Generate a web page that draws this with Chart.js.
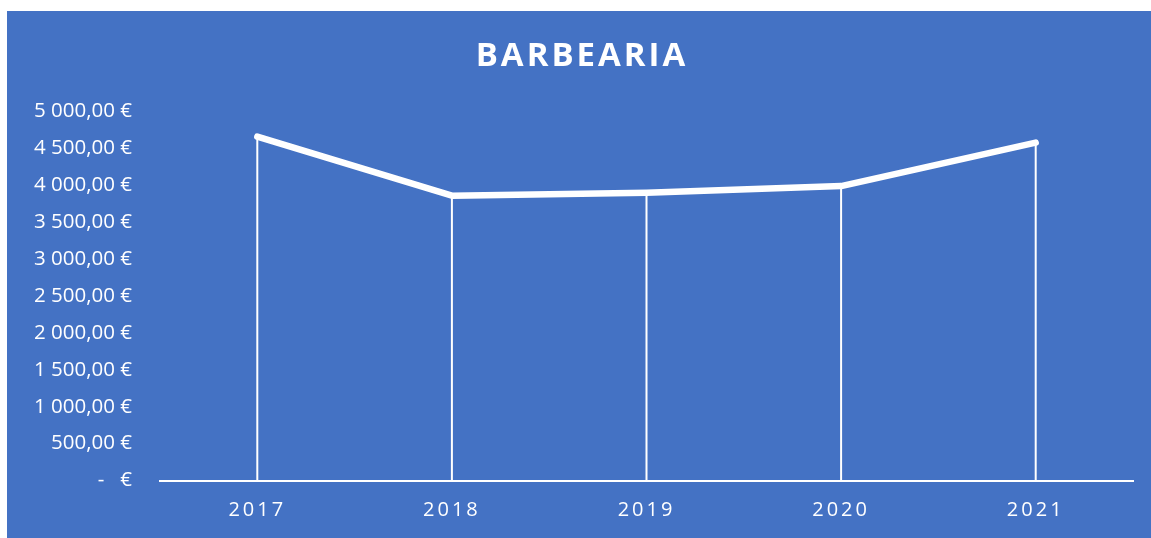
<!DOCTYPE html>
<html>
<head>
<meta charset="utf-8">
<script src="https://cdn.jsdelivr.net/npm/chart.js@4.4.4/dist/chart.umd.min.js"></script>
<style>
  html, body { margin: 0; padding: 0; background: #fff; }
  #wrap { position: absolute; left: 7px; top: 11px; width: 1144px; height: 527px; background: #4472c4; }
</style>
</head>
<body>
<div id="wrap"><canvas id="chart"></canvas></div>
<script>
const years = ['2017', '2018', '2019', '2020', '2021'];
const revenue = [4660, 3860, 3900, 3990, 4580];
const yTicks = [0, 500, 1000, 1500, 2000, 2500, 3000, 3500, 4000, 4500, 5000];

const WHITE = '#ffffff';

function euro(v) {
    if (v === 0) return '-   €';
    const parts = v.toFixed(2).split('.');
    const whole = parts[0].replace(/\B(?=(\d{3})+(?!\d))/g, ' ');
    return whole + ',' + parts[1] + ' €';
}

// spaced caps for the title and the year labels, plain text for the rest
const letterSpacing = {
    id: 'letterSpacing',
    beforeDraw(chart) { chart.ctx.letterSpacing = '3px'; },
    beforeDatasetsDraw(chart) { chart.ctx.letterSpacing = '0px'; }
};

// vertical drop lines from each point down to the category axis
const dropLines = {
    id: 'dropLines',
    beforeDatasetsDraw(chart) {
        const ctx = chart.ctx;
        const y = chart.scales.y;
        const meta = chart.getDatasetMeta(0);
        ctx.save();
        ctx.strokeStyle = WHITE;
        ctx.lineWidth = 2;
        meta.data.forEach(pt => {
            ctx.beginPath();
            ctx.moveTo(pt.x, pt.y);
            ctx.lineTo(pt.x, y.getPixelForValue(0));
            ctx.stroke();
        });
        ctx.restore();
    }
};

new Chart(document.getElementById('chart'), {
    type: 'line',
    data: {
        labels: years,
        datasets: [{
            label: 'Barbearia',
            data: revenue,
            borderColor: WHITE,
            backgroundColor: WHITE,
            borderWidth: 6.5,
            borderCapStyle: 'round',
            borderJoinStyle: 'round',
            pointRadius: 0,
            tension: 0
        }]
    },
    options: {
        responsive: true,
        maintainAspectRatio: false,
        animation: false,
        layout: { padding: { left: 24, right: 18, top: 0, bottom: 0 } },
        plugins: {
            legend: { display: false },
            tooltip: { enabled: false },
            title: {
                display: true,
                text: 'BARBEARIA',
                color: WHITE,
                font: { family: 'Open Sans', size: 33, weight: 'bold' },
                padding: { top: 26, bottom: 35 }
            }
        },
        scales: {
            x: {
                offset: true,
                grid: { display: false, drawTicks: false },
                border: { display: true, color: WHITE, width: 2 },
                ticks: {
                    color: WHITE,
                    padding: 18,
                    font: { family: 'Open Sans', size: 20 }
                },
                afterFit(scale) { scale.height = 57.5; }
            },
            y: {
                min: 0,
                max: 5000,
                afterBuildTicks(scale) { scale.ticks = yTicks.map(v => ({ value: v })); },
                grid: { display: false, drawTicks: false },
                border: { display: false },
                ticks: {
                    z: 1,
                    color: WHITE,
                    padding: 28,
                    font: { family: 'Open Sans', size: 20.5 },
                    callback: v => euro(v)
                },
                afterFit(scale) { scale.width = 129; }
            }
        }
    },
    plugins: [letterSpacing, dropLines]
});
</script>
</body>
</html>
